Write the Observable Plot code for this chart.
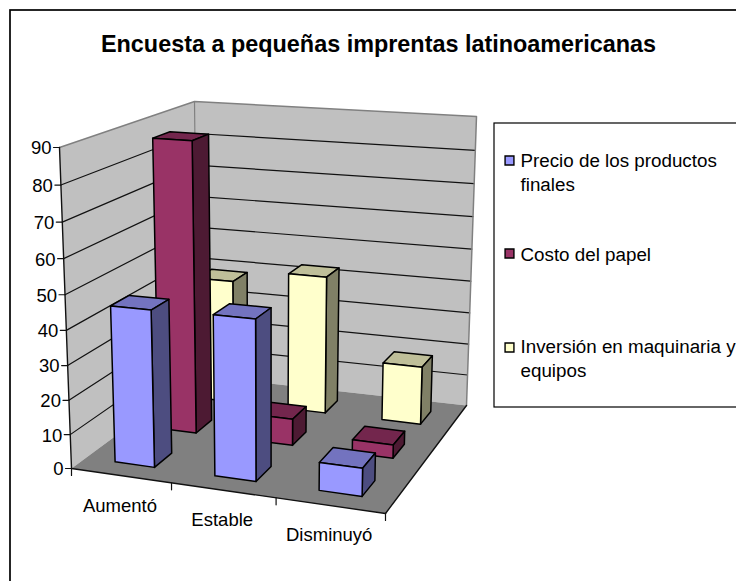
<!DOCTYPE html>
<html>
<head>
<meta charset="utf-8">
<style>html,body{margin:0;padding:0;background:#fff;overflow:hidden}</style>
<script src="https://cdn.jsdelivr.net/npm/d3@7"></script>
<script src="https://cdn.jsdelivr.net/npm/@observablehq/plot@0.6"></script>
</head>
<body>
<div id="chart"></div>
<script>
// ---- data ----
const titleText = "Encuesta a pequeñas imprentas latinoamericanas";
const categories = ["Aumentó", "Estable", "Disminuyó"];
const seriesNames = ["Precio de los productos\nfinales", "Costo del papel", "Inversión en maquinaria y\nequipos"];
const precio = [45.5, 46, 8];
const costo = [87, 8, 4];
const inversion = [39, 43, 18];
const seriesValues = [precio, costo, inversion];
const valueTicks = [0, 10, 20, 30, 40, 50, 60, 70, 80, 90];

// ---- styles / layout ----
const W = 736, H = 581, FONT = "Liberation Sans";
const faceColors = [
  {front: "#9999ff", top: "#7373bf", side: "#4d4d80"},
  {front: "#993366", top: "#73264d", side: "#4d1a33"},
  {front: "#ffffcc", top: "#bfbf99", side: "#808066"}
];
const swatchY = [160, 253, 347];
const legendTextY = [171, 253, 357];

// projective box: corners of the chart cube with homogeneous weights
const corners = {
  "000": [71, 468, 1], "100": [385, 513, .935], "010": [197, 375, 1.17], "110": [466, 405, 1.105],
  "001": [59, 147, .944], "101": [392, 170, .883], "011": [194, 101, 1.105], "111": [476, 116, 1.043]
};
function project(u, v, w) {
  let X = 0, Y = 0, Z = 0;
  for (const a of [0, 1]) for (const b of [0, 1]) for (const c of [0, 1]) {
    const t = (a ? u : 1 - u) * (b ? v : 1 - v) * (c ? w : 1 - w);
    const [x, y, h] = corners[`${a}${b}${c}`];
    X += t * h * x; Y += t * h * y; Z += t * h;
  }
  return [X / Z, Y / Z];
}
const vmax = 90;
function poly(id, fill, pts) {
  const closed = [...pts, pts[0]];
  return closed.map(([u, v, w]) => { const [x, y] = project(u, v, w); return {id, fill, x, y}; });
}

// walls & floor
const walls = [
  ...poly("left", "#c0c0c0", [[0,0,0],[0,1,0],[0,1,1],[0,0,1]]),
  ...poly("back", "#c0c0c0", [[0,1,0],[1,1,0],[1,1,1],[0,1,1]]),
  ...poly("floor", "#808080", [[0,0,0],[1,0,0],[1,1,0],[0,1,0]])
];
function seg(id, a, b) { return [a, b].map(([u, v, w]) => { const [x, y] = project(u, v, w); return {id, x, y}; }); }
const grid = valueTicks.slice(1, -1).flatMap(t => seg("g" + t, [0,0,t/vmax], [0,1,t/vmax]).concat(seg("g" + t, [0,1,t/vmax], [1,1,t/vmax]).slice(1)));
const topEdge = seg("top", [0,0,1], [0,1,1]).concat(seg("top", [0,1,1], [1,1,1]).slice(1), seg("top", [1,1,1], [1,1,0]).slice(1));
const cornerEdge = seg("corner", [0,1,0], [0,1,1]);
const axisEdges = [
  ...seg("yaxis", [0,0,0], [0,0,1]),
  ...seg("front", [0,0,0], [1,0,0]),
  ...seg("right", [1,0,0], [1,1,0])
];
const valueTickMarks = valueTicks.flatMap(t => { const [x, y] = project(0,0,t/vmax); return [{id:"t"+t, x:x-6, y},{id:"t"+t, x, y}]; });
const catTickMarks = [0,1,2,3].flatMap(i => { const [x, y] = project(i/3,0,0); return [{id:"c"+i, x, y},{id:"c"+i, x, y:y+7}]; });
const valueLabels = valueTicks.map(t => { const [x, y] = project(0,0,t/vmax); return {label: String(t), x: x-8, y: y+1}; });
const catLabels = categories.map((c, i) => { const [x, y] = project((i+.5)/3,0,0); return {label: c, x: x-1, y: y+30}; });

// bars, painted back row to front row
const bars = [];
for (let j = seriesValues.length - 1; j >= 0; j--) {
  seriesValues[j].forEach((val, i) => {
    const u0 = (i+.3)/3, u1 = (i+.7)/3, v0 = (j+.3)/3, v1 = (j+.7)/3, w = val/vmax, c = faceColors[j];
    const id = `b${j}${i}`;
    bars.push(...poly(id+"t", c.top, [[u0,v0,w],[u1,v0,w],[u1,v1,w],[u0,v1,w]]));
    bars.push(...poly(id+"s", c.side, [[u1,v0,0],[u1,v1,0],[u1,v1,w],[u1,v0,w]]));
    bars.push(...poly(id+"f", c.front, [[u0,v0,0],[u1,v0,0],[u1,v0,w],[u0,v0,w]]));
  });
}

const frame = [{x1: 10, x2: W + 20, y1: 10, y2: H + 20}];
const legendBox = [{x1: 494, x2: W + 20, y1: 123, y2: 407}];
const legendSw = seriesNames.map((s, i) => ({x: 509, y: swatchY[i], fill: faceColors[i].front}));
const legendTx = seriesNames.map((s, i) => ({x: 520, y: legendTextY[i], label: s}));

const chart = Plot.plot({
  width: W, height: H, margin: 0,
  x: {domain: [0, W], range: [0, W], axis: null},
  y: {domain: [0, H], range: [0, H], axis: null},
  marks: [
    Plot.rect(frame, {x1:"x1", x2:"x2", y1:"y1", y2:"y2", fill:"#fff", stroke:"#000", strokeWidth:1.7}),
    Plot.text([{x: 378, y: 44, label: titleText}], {x:"x", y:"y", text:"label", fontFamily:FONT, fontSize:23.4, fontWeight:"bold", fill:"#000"}),
    Plot.line(walls, {x:"x", y:"y", z:"id", fill:"fill", stroke:"none"}),
    Plot.line(grid, {x:"x", y:"y", z:"id", stroke:"#111", strokeWidth:1.2}),
    Plot.line(topEdge, {x:"x", y:"y", z:"id", stroke:"#808080", strokeWidth:1.5}),
    Plot.line(cornerEdge, {x:"x", y:"y", z:"id", stroke:"#808080", strokeWidth:1.2}),
    Plot.line(axisEdges, {x:"x", y:"y", z:"id", stroke:"#111", strokeWidth:1.4}),
    Plot.line(valueTickMarks, {x:"x", y:"y", z:"id", stroke:"#111", strokeWidth:1.2}),
    Plot.line(catTickMarks, {x:"x", y:"y", z:"id", stroke:"#111", strokeWidth:1.2}),
    Plot.line(bars, {x:"x", y:"y", z:"id", fill:"fill", stroke:"#000", strokeWidth:1.5, strokeLinejoin:"round"}),
    Plot.text(valueLabels, {x:"x", y:"y", text:"label", textAnchor:"end", fontFamily:FONT, fontSize:18.5, fill:"#000"}),
    Plot.text(catLabels, {x:"x", y:"y", text:"label", fontFamily:FONT, fontSize:18.5, fill:"#000"}),
    Plot.rect(legendBox, {x1:"x1", x2:"x2", y1:"y1", y2:"y2", fill:"#fff", stroke:"#000", strokeWidth:1.2}),
    Plot.dot(legendSw, {x:"x", y:"y", symbol:"square", r:5, fill:"fill", stroke:"#000", strokeWidth:1.4}),
    Plot.text(legendTx, {x:"x", y:"y", text:"label", textAnchor:"start", lineHeight:1.24, fontFamily:FONT, fontSize:18.8, fill:"#000"})
  ]
});
document.getElementById("chart").appendChild(chart);
</script>
</body>
</html>
